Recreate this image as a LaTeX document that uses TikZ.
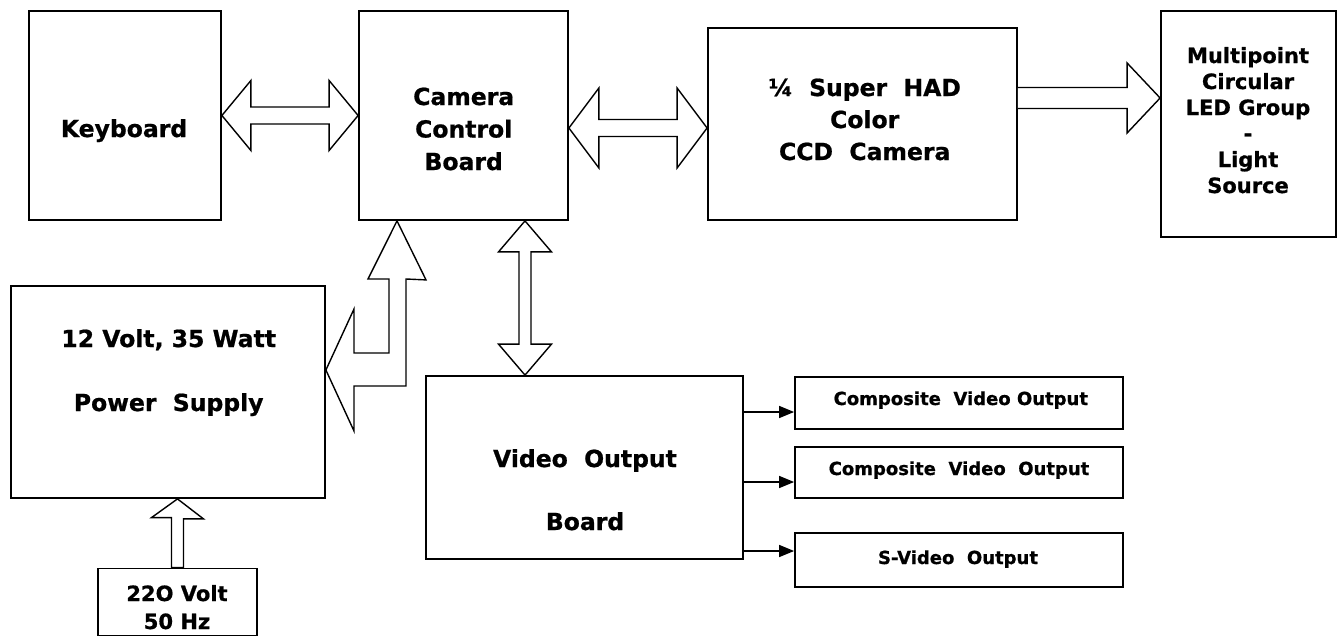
\documentclass[tikz,border=0pt]{standalone}
\usepackage{fontspec}
\setmainfont{DejaVu Sans}[BoldFeatures={FakeBold=0.8}]
\usetikzlibrary{calc,arrows.meta}
\newcommand\dblarrowH[5]{% #1 left tip, #2 right tip, #3 half head, #4 half shaft, #5 head length
  \draw[blk] (#1) -- ++(#5,-#3) -- ++(0,#3-#4) -- ($(#2)+(-#5,-#4)$) -- ++(0,#4-#3) -- (#2)
    -- ++(-#5,#3) -- ++(0,#4-#3) -- ($(#1)+(#5,#4)$) -- ++(0,#3-#4) -- cycle;}
\begin{document}
\begin{tikzpicture}[x=1pt,y=-1pt,
  box/.style={draw,line width=1.8pt,inner sep=0pt},
  blk/.style={draw,line width=1.4pt,line join=miter,fill=white},
  lbl/.style={font=\bfseries\fontsize{23.5}{32.5}\selectfont,align=center,anchor=base,inner sep=0pt},
  outarr/.style={draw,line width=1.5pt,-{Triangle[length=15pt,width=12pt]}}]
\useasboundingbox[fill=white] (0,0) rectangle (1343,637);
% boxes
\node[box,minimum width=192pt,minimum height=209pt] (kb) at (125,115.5) {};
\node[box,minimum width=209pt,minimum height=209pt] (cam) at (463.5,115.5) {};
\node[box,minimum width=309pt,minimum height=192pt] (ccd) at (862.5,124) {};
\node[box,minimum width=175pt,minimum height=226pt] (led) at (1248.5,124) {};
\node[box,minimum width=314pt,minimum height=212pt] (pwr) at (168,392) {};
\node[box,minimum width=317pt,minimum height=183pt] (vid) at (584.5,467.5) {};
\node[box,minimum width=328pt,minimum height=52pt] (o1) at (959,403) {};
\node[box,minimum width=328pt,minimum height=51pt] (o2) at (959,472.5) {};
\node[box,minimum width=328pt,minimum height=54pt] (o3) at (959,560) {};
\node[box,minimum width=159pt,minimum height=67pt] (ac) at (177.5,602) {};
% texts (anchor = baseline of the last line)
\node[lbl] (tkb) at (124,137) {Keyboard};
\node[lbl] (tcam) at (463.7,170) {Camera\\Control\\Board};
\node[lbl,font=\bfseries\fontsize{23.5}{32}\selectfont] (tccd) at (864.7,160) {¼\ \ Super\ \ HAD\\Color\\CCD\ \ Camera};
\node[lbl,font=\bfseries\fontsize{21}{26}\selectfont] (tled) at (1248,193) {Multipoint\\Circular\\LED Group\\-\\Light\\Source};
\node[lbl,font=\bfseries\fontsize{23.5}{64}\selectfont] (tpwr) at (168.7,411) {12 Volt, 35 Watt\\Power\ \ Supply};
\node[lbl,font=\bfseries\fontsize{23.5}{63}\selectfont] (tvid) at (585,530) {Video\ \ Output\\Board};
\node[lbl,font=\bfseries\fontsize{18}{20}\selectfont] (to1) at (960.8,405) {Composite\ \ Video Output};
\node[lbl,font=\bfseries\fontsize{18}{20}\selectfont] (to2) at (959,475) {Composite\ \ Video\ \ Output};
\node[lbl,font=\bfseries\fontsize{18}{20}\selectfont] (to3) at (958,564) {S-Video\ \ Output};
\node[lbl,font=\bfseries\fontsize{21}{28}\selectfont] (tac) at (177,629) {22O Volt\\50 Hz};
% block arrows
\dblarrowH{kb.east}{cam.west}{35}{8.5}{29}
\coordinate (c2a) at ($(cam.east)+(0,12.5)$);
\coordinate (c2b) at (c2a -| ccd.west);
\dblarrowH{c2a}{c2b}{40}{8.5}{30}
% single arrow ccd -> led
\coordinate (c3a) at ($(ccd.east)+(0,-26)$);
\coordinate (c3b) at (c3a -| led.west);
\draw[blk] ($(c3a)+(0,-10.5)$) -- ($(c3b)+(-33,-10.5)$) -- ++(0,-24.5) -- (c3b) -- ++(-33,35)
  -- ++(0,-24.5) -- ($(c3a)+(0,10.5)$);
% L-shaped arrow camera -> power supply
\coordinate (lt) at ($(cam.south)+(-66.5,0)$);
\coordinate (ll) at ($(pwr.east)+(0,-22)$);
\draw[blk] (lt) -- ++(29,59) -- (406,279) -- (406,386) -- (354,386) -- (354,431) -- (ll)
  -- (354,309) -- (354,353) -- (389,353) -- (389,279) -- (368,279) -- cycle;
% vertical double arrow camera <-> video
\coordinate (v1) at ($(cam.south)+(61.5,0)$);
\coordinate (v2) at (v1 |- vid.north);
\draw[blk] (v1) -- ++(-26.5,31) -- ++(20.5,0) -- ($(v2)+(-6,-31)$) -- ++(-20.5,0) -- (v2)
  -- ++(26.5,-31) -- ++(-20.5,0) -- ($(v1)+(6,31)$) -- ++(20.5,0) -- cycle;
% arrow mains -> power supply
\coordinate (p1) at (ac.north |- pwr.south);
\draw[blk] (p1) -- ++(26,20) -- ++(-20,0) -- ($(ac.north)+(6,0)$) -- ($(ac.north)+(-6,0)$)
  -- ++(0,-50) -- ++(-20,0) -- cycle;
% output arrows
\coordinate (a1) at ($(o1.west)+(0,9)$);
\coordinate (a2) at ($(o2.west)+(0,9.5)$);
\coordinate (a3) at ($(o3.west)+(0,-9)$);
\draw[outarr] (vid.east |- a1) -- (a1);
\draw[outarr] (vid.east |- a2) -- (a2);
\draw[outarr] (vid.east |- a3) -- (a3);
\end{tikzpicture}
\end{document}
